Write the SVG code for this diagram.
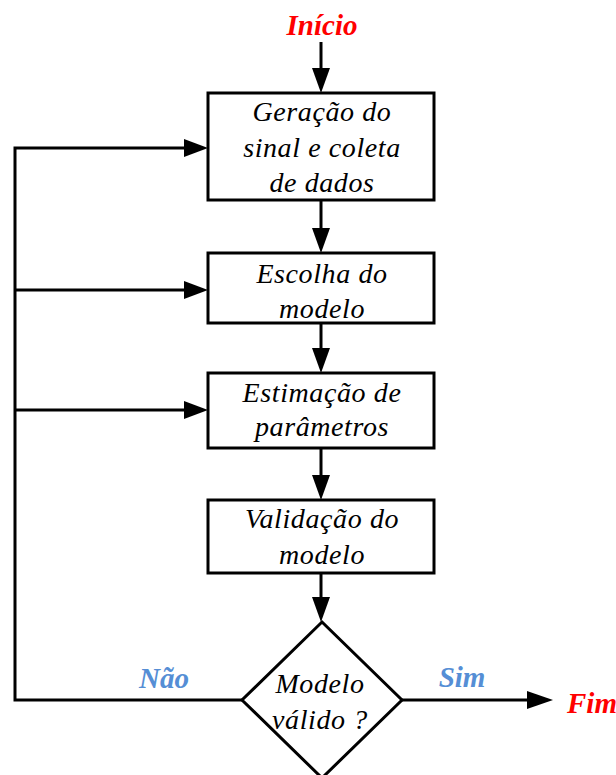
<svg xmlns="http://www.w3.org/2000/svg" width="616" height="775" viewBox="0 0 616 775">
<defs>
<style>
.box{fill:#fff;stroke:#000;stroke-width:3}
.t{font-family:"Liberation Serif","Times New Roman",serif;font-style:italic;font-size:28px;fill:#000;text-anchor:middle;letter-spacing:0.6px}
.c{stroke:#000;stroke-width:3;fill:none}
.h{fill:#000}
.lbl{font-family:"Liberation Serif","Times New Roman",serif;font-style:italic;font-weight:bold;font-size:29px}
</style>
</defs>
<rect width="616" height="775" fill="#fff"/>
<g id="connectors">
<path class="c" d="M321,42 V70"/><path class="h" d="M312,68 L330,68 L321,93 Z"/>
<path class="c" d="M321,200 V230"/><path class="h" d="M312,228 L330,228 L321,253 Z"/>
<path class="c" d="M321,323 V350"/><path class="h" d="M312,348 L330,348 L321,373 Z"/>
<path class="c" d="M321,448 V477"/><path class="h" d="M312,475 L330,475 L321,500 Z"/>
<path class="c" d="M321,573 V599"/><path class="h" d="M312,597 L330,597 L321,622 Z"/>
<path class="c" d="M242,700 H15 V148 H186"/><path class="h" d="M184,139 L184,157 L208,148 Z"/>
<path class="c" d="M15,290 H186"/><path class="h" d="M184,281 L184,299 L208,290 Z"/>
<path class="c" d="M15,410 H186"/><path class="h" d="M184,401 L184,419 L208,410 Z"/>
<path class="c" d="M402,700 H530"/><path class="h" d="M527,691 L527,709 L553,700 Z"/>
<text class="lbl" x="164" y="688" fill="#558ED5" text-anchor="middle">Não</text>
<text class="lbl" x="462" y="687" fill="#558ED5" text-anchor="middle">Sim</text>
</g>
<g id="inicio"><text class="lbl" x="322" y="35" fill="#FF0000" text-anchor="middle">Início</text></g>
<g id="fim"><text class="lbl" x="567" y="713" fill="#FF0000">Fim</text></g>
<g id="n1"><rect class="box" x="208" y="93" width="226" height="107"/>
<text class="t" x="322" y="121">Geração do</text><text class="t" x="322" y="157">sinal e coleta</text><text class="t" x="322" y="192">de dados</text></g>
<g id="n2"><rect class="box" x="208" y="253" width="226" height="70"/>
<text class="t" x="322" y="283">Escolha do</text><text class="t" x="322" y="318">modelo</text></g>
<g id="n3"><rect class="box" x="208" y="373" width="226" height="75"/>
<text class="t" x="322" y="402">Estimação de</text><text class="t" x="322" y="436">parâmetros</text></g>
<g id="n4"><rect class="box" x="208" y="500" width="226" height="73"/>
<text class="t" x="322" y="528">Validação do</text><text class="t" x="322" y="564">modelo</text></g>
<g id="d1"><path class="box" d="M322,622 L402,700 L322,778 L242,700 Z"/>
<text class="t" x="320" y="693">Modelo</text><text class="t" x="320" y="729">válido ?</text></g>
</svg>
